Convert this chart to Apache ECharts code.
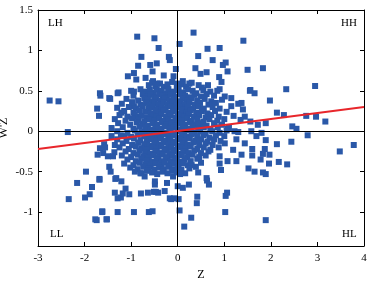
<!DOCTYPE html>
<html>
<head>
<meta charset="utf-8">
<script src="https://cdn.jsdelivr.net/npm/echarts@6/dist/echarts.min.js"></script>
<style>
html,body{margin:0;padding:0;background:#fff;}
#container{width:372px;height:282px;}
</style>
</head>
<body>
<div id="container"></div>
<script>
// tick labels
var xTicks = [-3, -2, -1, 0, 1, 2, 3, 4];
var yTicks = [-1, -0.5, 0, 0.5, 1, 1.5];
// regression line end points
var regLine = [[-3, -0.22], [4, 0.30]];
// quadrant names
var quadLabels = ['LH', 'HH', 'LL', 'HL'];

// scattered points (Z, W'Z)
var outerPts = [
  [-0.87,1.17],[-0.5,1.15],[-0.41,1.03],[-0.78,0.92],[-0.85,0.81],[-0.59,0.82],[-0.45,0.84],[-0.19,0.92],[-0.17,0.88],
  [-0.94,0.72],[-0.54,0.74],[-1.07,0.68],[-0.89,0.64],[-0.69,0.66],[-0.3,0.69],[-0.09,0.68],[-0.53,0.62],[-0.44,0.59],
  [-1.67,0.47],[-1.27,0.48],[-0.94,0.49],
  [0.34,1.22],[0.04,1.08],[1.41,1.12],[0.64,1.02],[0.9,1.03],[0.44,0.93],[0.75,0.88],[0.97,0.82],[1.03,0.85],[0.38,0.78],
  [1.5,0.76],[1.83,0.78],[1.07,0.74],[0.49,0.71],[0.62,0.73],[-0.04,0.77],[0.89,0.67],[0.94,0.61],[0.11,0.62],[0.25,0.59],
  [-0.01,0.59],[0.65,0.57],[0.9,0.52],[1.55,0.5],[1.65,0.47],
  [2.33,0.52],[2.95,0.56],[1.98,0.38],[1.56,0.51],[2.13,0.23],[2.28,0.2],[2.76,0.19],[2.97,0.18],[3.17,0.12],[2.46,0.06],
  [2.55,0.03],[2.79,-0.05],[1.89,0.1],[1.72,0.08],[1.56,0.12],[1.8,-0.02],[1.69,-0.06],
  [3.78,-0.17],[3.48,-0.25],[2.44,-0.13],[2.13,-0.16],[1.89,-0.11],[1.87,-0.22],[1.83,-0.28],[1.97,-0.29],[1.6,-0.22],
  [1.6,-0.3],[1.96,-0.4],[2.17,-0.38],[2.35,-0.41],[1.65,-0.5],[1.83,-0.51],[1.89,-0.53],[1.89,-1.1],[1.01,0.43],[1.37,0.35],
  [1.4,0.27],[1.44,0.18],[1.15,0.31],[1.08,0.03],[1.22,0.0],[1.58,0.0],[1.26,-0.1],[1.44,-0.15],[1.19,-0.23],[1.37,-0.29],
  [1.01,-0.15],[0.9,-0.31],[1.78,-0.35],[1.26,-0.37],[1.52,-0.46],
  [0.14,-1.18],[0.29,-1.07],[0.04,-0.98],[1.02,-1.0],[0.41,-0.89],[0.42,-0.81],[1.03,-0.8],[1.06,-0.76],[0.02,-0.84],
  [0.67,-0.66],[0.62,-0.58],[0.63,-0.61],[0.24,-0.66],[0.11,-0.7],[0.0,-0.68],[0.16,-0.52],[0.22,-0.42],[0.39,-0.44],
  [0.44,-0.51],[0.93,-0.48],[0.9,-0.4],[1.07,-0.37],
  [-1.68,-0.59],[-1.62,-1.0],[-1.74,-1.1],[-1.52,-1.09],[-1.29,-1.0],[-0.94,-1.0],[-0.62,-1.0],[-0.54,-0.99],[-1.35,-0.76],
  [-1.22,-0.82],[-1.18,-0.77],[-1.12,-0.71],[-1.04,-0.78],[-1.32,-0.58],[-1.21,-0.62],[-1.47,-0.44],[-1.44,-0.5],
  [-0.79,-0.77],[-0.64,-0.76],[-0.51,-0.75],[-0.42,-0.76],[-0.28,-0.74],[-0.14,-0.84],[-0.49,-0.62],[-0.49,-0.66],
  [-0.35,-0.42],[-0.1,-0.56],[-0.23,-0.64],[-0.78,-0.52],[-0.71,-0.56],[-0.08,-0.83],[-0.17,-0.83],[-0.47,-0.75],
  [-2.75,0.38],[-2.56,0.37],[-1.66,0.44],[-1.47,0.41],[-1.29,0.47],[-1.73,0.28],[-1.69,0.19],[-2.36,-0.01],[-1.42,0.04],
  [-1.42,-0.06],[-1.58,-0.16],[-1.56,-0.2],[-1.35,-0.17],[-1.36,-0.26],[-1.39,-0.31],[-1.72,-0.29],[-1.97,-0.5],
  [-2.16,-0.64],[-1.68,-0.6],[-1.34,-0.59],[-1.84,-0.69],[-1.89,-0.78],[-1.99,-0.82],[-2.34,-0.84],[-1.29,-0.83],
  [-1.62,-0.99],[-1.77,-1.09],[-1.53,-1.09],[-1.45,0.4],[-1.21,0.23],[-0.94,0.31],[-0.89,0.18],[-1.67,-0.21],
  [-1.6,-0.27],[-1.14,-0.06],[-1.5,-0.31]
];

// dense cloud around the origin
var corePts = [
  [-0.62,0.57],[-0.55,0.6],[-0.48,0.56],[-0.38,0.59],[-0.3,0.55],[-0.22,0.58],[-0.12,0.61],[-0.02,0.56],[0.08,0.58],[0.18,0.55],[0.3,0.6],[0.45,0.57],[0.52,0.54],
  [-1.0,0.5],[-0.8,0.52],[-0.7,0.49],[-0.6,0.51],[-0.52,0.48],[-0.45,0.52],[-0.35,0.5],[-0.27,0.47],[-0.2,0.52],[-0.1,0.49],[0.02,0.51],[0.12,0.48],[0.22,0.52],[0.32,0.5],[0.4,0.47],[0.55,0.51],[0.7,0.49],[0.85,0.5],
  [-0.95,0.44],[-0.75,0.46],[-0.66,0.43],[-0.58,0.45],[-0.5,0.42],[-0.4,0.46],[-0.32,0.44],[-0.24,0.42],[-0.15,0.45],[-0.05,0.43],[0.06,0.46],[0.16,0.44],[0.26,0.42],[0.36,0.45],[0.5,0.43],[0.62,0.46],[0.78,0.44],
  [-1.1,0.4],[-0.85,0.38],[-0.72,0.41],[-0.64,0.39],[-0.55,0.37],[-0.46,0.4],[-0.36,0.38],[-0.28,0.41],[-0.18,0.38],[-0.08,0.4],[0.0,0.37],[0.1,0.4],[0.2,0.38],[0.3,0.41],[0.42,0.38],[0.58,0.4],[0.72,0.37],[0.95,0.39],[1.15,0.41],
  [-1.2,0.34],[-0.98,0.36],[-0.8,0.33],[-0.68,0.35],[-0.6,0.32],[-0.5,0.35],[-0.42,0.33],[-0.3,0.36],[-0.22,0.33],[-0.12,0.35],[-0.03,0.32],[0.05,0.35],[0.15,0.33],[0.25,0.36],[0.36,0.33],[0.48,0.35],[0.66,0.33],[0.82,0.35],[1.3,0.34],
  [-1.3,0.29],[-1.05,0.3],[-0.9,0.28],[-0.75,0.31],[-0.62,0.28],[-0.54,0.3],[-0.44,0.27],[-0.34,0.3],[-0.26,0.28],[-0.16,0.31],[-0.06,0.28],[0.03,0.3],[0.12,0.27],[0.22,0.3],[0.33,0.28],[0.44,0.31],[0.56,0.28],[0.75,0.3],[0.9,0.28],
  [-1.15,0.25],[-0.95,0.23],[-0.82,0.26],[-0.7,0.24],[-0.58,0.22],[-0.48,0.25],[-0.38,0.23],[-0.3,0.26],[-0.2,0.23],[-0.1,0.25],[0.0,0.22],[0.08,0.25],[0.18,0.23],[0.28,0.26],[0.4,0.23],[0.52,0.25],[0.64,0.22],[0.8,0.25],[1.05,0.24],
  [-1.25,0.2],[-1.08,0.18],[-0.92,0.21],[-0.78,0.19],[-0.66,0.17],[-0.55,0.2],[-0.45,0.18],[-0.35,0.21],[-0.25,0.18],[-0.15,0.2],[-0.05,0.17],[0.05,0.2],[0.14,0.18],[0.24,0.21],[0.35,0.18],[0.46,0.2],[0.6,0.17],[0.72,0.2],[0.88,0.18],[1.2,0.19],
  [-1.35,0.15],[-1.12,0.13],[-0.98,0.16],[-0.85,0.14],[-0.72,0.12],[-0.6,0.15],[-0.5,0.13],[-0.4,0.16],[-0.3,0.13],[-0.2,0.15],[-0.08,0.12],[0.02,0.15],[0.1,0.13],[0.2,0.16],[0.3,0.13],[0.42,0.15],[0.55,0.12],[0.68,0.15],[0.85,0.13],[1.0,0.15],[1.35,0.14],
  [-1.28,0.1],[-1.02,0.08],[-0.88,0.11],[-0.76,0.09],[-0.64,0.07],[-0.54,0.1],[-0.44,0.08],[-0.34,0.11],[-0.24,0.08],[-0.14,0.1],[-0.04,0.07],[0.06,0.1],[0.16,0.08],[0.26,0.11],[0.38,0.08],[0.5,0.1],[0.62,0.07],[0.78,0.1],[0.95,0.08],
  [-1.18,0.05],[-0.95,0.03],[-0.82,0.06],[-0.7,0.04],[-0.58,0.02],[-0.48,0.05],[-0.38,0.03],[-0.28,0.06],[-0.18,0.03],[-0.09,0.05],[0.0,0.02],[0.1,0.05],[0.2,0.03],[0.32,0.06],[0.44,0.03],[0.56,0.05],[0.7,0.02],[0.86,0.05],[1.1,0.04],
  [-1.3,0.0],[-1.08,-0.02],[-0.92,0.01],[-0.78,-0.01],[-0.66,-0.03],[-0.55,0.0],[-0.45,-0.02],[-0.35,0.01],[-0.25,-0.02],[-0.15,0.0],[-0.06,-0.03],[0.04,0.0],[0.14,-0.02],[0.25,0.01],[0.36,-0.02],[0.48,0.0],[0.6,-0.03],[0.74,0.0],[0.9,-0.02],[1.05,0.01],[1.3,-0.01],
  [-1.22,-0.05],[-1.0,-0.07],[-0.86,-0.04],[-0.72,-0.06],[-0.6,-0.08],[-0.5,-0.05],[-0.4,-0.07],[-0.3,-0.04],[-0.2,-0.07],[-0.1,-0.05],[0.0,-0.08],[0.09,-0.05],[0.19,-0.07],[0.3,-0.04],[0.42,-0.07],[0.55,-0.05],[0.68,-0.08],[0.82,-0.05],[1.0,-0.06],
  [-1.3,-0.1],[-1.1,-0.12],[-0.94,-0.09],[-0.8,-0.11],[-0.66,-0.13],[-0.56,-0.1],[-0.46,-0.12],[-0.36,-0.09],[-0.26,-0.12],[-0.16,-0.1],[-0.05,-0.13],[0.05,-0.1],[0.15,-0.12],[0.26,-0.09],[0.38,-0.12],[0.5,-0.1],[0.64,-0.13],[0.78,-0.1],[0.92,-0.12],
  [-1.18,-0.15],[-0.98,-0.17],[-0.85,-0.14],[-0.72,-0.16],[-0.6,-0.18],[-0.5,-0.15],[-0.4,-0.17],[-0.3,-0.14],[-0.2,-0.17],[-0.1,-0.15],[0.0,-0.18],[0.1,-0.15],[0.22,-0.17],[0.34,-0.14],[0.46,-0.17],[0.6,-0.15],[0.75,-0.17],
  [-1.25,-0.2],[-1.05,-0.22],[-0.9,-0.19],[-0.78,-0.21],[-0.66,-0.23],[-0.55,-0.2],[-0.45,-0.22],[-0.35,-0.19],[-0.24,-0.22],[-0.14,-0.2],[-0.04,-0.23],[0.06,-0.2],[0.17,-0.22],[0.28,-0.19],[0.42,-0.22],[0.56,-0.2],[0.7,-0.23],[0.88,-0.2],
  [-1.12,-0.25],[-0.95,-0.27],[-0.82,-0.24],[-0.7,-0.26],[-0.58,-0.28],[-0.48,-0.25],[-0.38,-0.27],[-0.28,-0.24],[-0.18,-0.27],[-0.08,-0.25],[0.02,-0.28],[0.12,-0.25],[0.24,-0.27],[0.36,-0.24],[0.5,-0.27],[0.66,-0.25],
  [-1.2,-0.3],[-1.0,-0.32],[-0.86,-0.29],[-0.74,-0.31],[-0.62,-0.33],[-0.52,-0.3],[-0.42,-0.32],[-0.32,-0.29],[-0.22,-0.32],[-0.12,-0.3],[-0.02,-0.33],[0.08,-0.3],[0.2,-0.32],[0.32,-0.29],[0.46,-0.32],[0.6,-0.3],
  [-1.08,-0.35],[-0.9,-0.37],[-0.78,-0.34],[-0.66,-0.36],[-0.55,-0.38],[-0.45,-0.35],[-0.35,-0.37],[-0.25,-0.34],[-0.15,-0.37],[-0.05,-0.35],[0.04,-0.38],[0.15,-0.35],[0.28,-0.37],[0.42,-0.34],
  [-1.15,-0.4],[-0.95,-0.42],[-0.82,-0.39],[-0.7,-0.41],[-0.58,-0.43],[-0.48,-0.4],[-0.38,-0.42],[-0.28,-0.39],[-0.18,-0.42],[-0.08,-0.4],[0.02,-0.43],[0.12,-0.4],[0.3,-0.42],[0.5,-0.39],
  [-1.02,-0.45],[-0.86,-0.47],[-0.74,-0.44],[-0.62,-0.46],[-0.5,-0.48],[-0.4,-0.45],[-0.3,-0.47],[-0.2,-0.44],[-0.1,-0.47],[0.0,-0.45],[0.08,-0.48],[0.25,-0.46],
  [-0.92,-0.5],[-0.8,-0.52],[-0.66,-0.49],[-0.55,-0.51],[-0.44,-0.53],[-0.32,-0.5],[-0.22,-0.52],[-0.12,-0.49],[-0.02,-0.51],[0.05,-0.53]
];

var dom = document.getElementById("container");
var myChart = echarts.init(dom);
var font = "Liberation Serif";
var option = null;

function quadText(txt, pos) {
    return {
        type: 'text',
        left: pos[0],
        top: pos[1],
        style: { text: txt, fill: '#000', font: '11px "Liberation Serif"' }
    };
}

option = {
    animation: false,
    backgroundColor: '#fff',
    grid: { left: 38, right: 8, top: 10, bottom: 36, containLabel: false, outerBoundsMode: 'none' },
    xAxis: [{
        type: 'value', min: -3, max: 4, interval: 1,
        name: 'Z', nameLocation: 'middle', nameGap: 23, nameMoveOverlap: false,
        nameTextStyle: { fontFamily: font, fontSize: 12, color: '#000' },
        axisLine: { show: true, onZero: false, lineStyle: { color: '#000', width: 1 } },
        axisTick: { show: true, inside: true, length: 4, lineStyle: { color: '#000' } },
        axisLabel: { fontFamily: font, fontSize: 11, color: '#000', margin: 7,
            formatter: function (v) { return xTicks.indexOf(v) >= 0 ? String(v) : ''; } },
        splitLine: { show: false }
    }, {
        type: 'value', min: -3, max: 4, interval: 1, position: 'top',
        axisLine: { show: true, onZero: false, lineStyle: { color: '#000', width: 1 } },
        axisTick: { show: true, inside: true, length: 4, lineStyle: { color: '#000' } },
        axisLabel: { show: false },
        splitLine: { show: false }
    }],
    yAxis: [{
        type: 'value', min: -1.42, max: 1.5,
        name: "W'Z", nameLocation: 'middle', nameGap: 28, nameMoveOverlap: false,
        nameTextStyle: { fontFamily: font, fontSize: 12, color: '#000' },
        axisLine: { show: true, onZero: false, lineStyle: { color: '#000', width: 1 } },
        axisTick: { show: true, inside: true, length: 4, customValues: yTicks, lineStyle: { color: '#000' } },
        axisLabel: { fontFamily: font, fontSize: 11, color: '#000', margin: 5, customValues: yTicks },
        splitLine: { show: false }
    }, {
        type: 'value', min: -1.42, max: 1.5, position: 'right',
        axisLine: { show: true, onZero: false, lineStyle: { color: '#000', width: 1 } },
        axisTick: { show: true, inside: true, length: 4, customValues: yTicks, lineStyle: { color: '#000' } },
        axisLabel: { show: false, customValues: yTicks },
        splitLine: { show: false }
    }],
    graphic: [
        quadText(quadLabels[0], [48, 18]),
        quadText(quadLabels[1], [341, 18]),
        quadText(quadLabels[2], [50, 229]),
        quadText(quadLabels[3], [342, 229])
    ],
    series: [{
        type: 'scatter',
        symbol: 'rect',
        symbolSize: 6,
        itemStyle: { color: '#2a58a8', opacity: 1 },
        data: outerPts.concat(corePts),
        markLine: {
            silent: true, symbol: 'none', animation: false,
            label: { show: false },
            lineStyle: { color: '#000', width: 1, type: 'solid' },
            data: [{ xAxis: 0 }, { yAxis: 0 }]
        },
        z: 2
    }, {
        type: 'line',
        data: regLine,
        symbol: 'none',
        lineStyle: { color: '#e8262b', width: 2 },
        z: 5
    }]
};

if (option && typeof option === "object") {
    myChart.setOption(option, true);
}
</script>
</body>
</html>
